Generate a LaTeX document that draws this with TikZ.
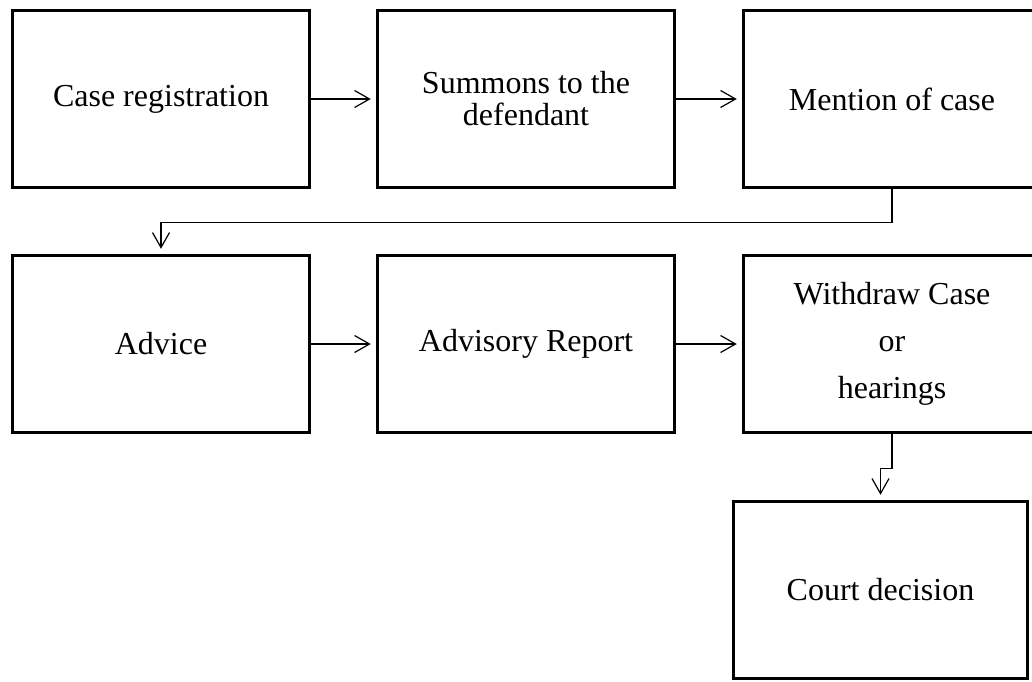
\documentclass[tikz,border=0pt]{standalone}
\usepackage{fontspec}
\setmainfont{Liberation Serif}
\usetikzlibrary{arrows.meta}
\begin{document}
\begin{tikzpicture}[x=1pt,y=-1pt,
  stepbox/.style={draw=black, line width=3.5pt, fill=white, minimum width=297pt,
    minimum height=177pt, inner sep=0pt, align=center,
    font=\fontsize{32}{32}\selectfont},
  conn/.style={draw=black, line width=1.2pt,
    -{Straight Barb[length=15pt,width=17pt,line width=1.2pt]}, shorten >=5pt}]
\useasboundingbox (0,0) rectangle (1032,681);
\clip (0,0) rectangle (1032,681);
\node[stepbox] (A) at (161,99) {Case registration};
\node[stepbox] (B) at (526,99) {Summons to the\\defendant};
\node[stepbox] (C) at (892,99) {Mention of case};
\node[stepbox] (D) at (161,344) {Advice};
\node[stepbox] (E) at (526,344) {Advisory Report};
\node[stepbox, font=\fontsize{32}{47}\selectfont] (F) at (892,344) {Withdraw Case\\or\\hearings};
\node[stepbox, minimum width=294pt] (G) at (880.5,590) {Court decision};
\draw[conn] (A) -- (B);
\draw[conn] (B) -- (C);
\draw[conn] (C.south) -- ++(0,33) -| (D.north);
\draw[conn] (D) -- (E);
\draw[conn] (E) -- (F);
\draw[conn] (F.south) -- ++(0,34) -| (G.north);
\end{tikzpicture}
\end{document}
